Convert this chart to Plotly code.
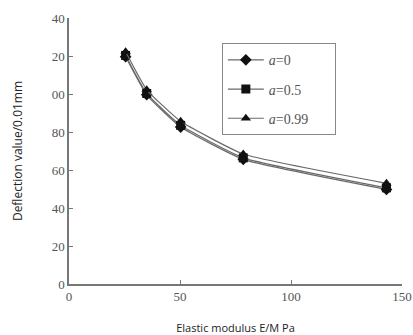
import plotly.graph_objects as go

modulus = [25.5, 35, 50.3, 78.5, 143]
defl_a0 = [119.6, 99.6, 82.6, 65.6, 49.8]
defl_a05 = [120.3, 100.3, 83.5, 66.4, 50.6]
defl_a099 = [122.2, 102.2, 85.6, 68.4, 53.0]
series_names = ["<i>a</i>=0", "<i>a</i>=0.5", "<i>a</i>=0.99"]
symbols = ["diamond", "square", "triangle-up"]
y_tickvals = [0, 20, 40, 60, 80, 100, 120, 140]
y_ticktext = ["0", "20", "40", "60", "80", "00", "20", "40"]
x_tickvals = [0, 50, 100, 150]
x_ticktext = ["0", "50", "100", "150"]

fig = go.Figure()
for i, (name, ys, sym) in enumerate(zip(series_names, [defl_a0, defl_a05, defl_a099], symbols)):
    fig.add_trace(go.Scatter(
        x=modulus, y=ys, mode="lines+markers", name=name + "\u00a0" * 6,
        legendgroup=f"g{i}",
        line=dict(color="#6a6a6a", width=1.2, shape="spline", smoothing=0.4),
        marker=dict(symbol=sym, size=9, color="#111111"),
    ))

serif = "Liberation Serif"
fig.update_layout(
    width=413, height=335,
    margin=dict(l=69, r=11, t=18, b=51),
    plot_bgcolor="white", paper_bgcolor="white",
    showlegend=True,
    legend=dict(
        x=0.459, y=0.905, xanchor="left", yanchor="top",
        bordercolor="#888888", borderwidth=1, bgcolor="white",
        font=dict(family=serif, size=14, color="#555555"),
        tracegroupgap=8, itemwidth=36,
    ),
    xaxis=dict(
        range=[0, 150], tickvals=x_tickvals, ticktext=x_ticktext,
        ticks="inside", ticklen=4, tickcolor="#777777",
        showline=True, linecolor="#777777", linewidth=1.5,
        showgrid=False, zeroline=False, automargin=False,
        tickfont=dict(family=serif, size=13, color="#555555"),
        title=dict(text="Elastic modulus E/M Pa", standoff=21,
                   font=dict(family="Open Sans", size=11, color="#222222")),
    ),
    yaxis=dict(
        range=[0, 140], tickvals=y_tickvals, ticktext=y_ticktext,
        ticks="inside", ticklen=4, tickcolor="#777777",
        showline=True, linecolor="#777777", linewidth=1.5,
        showgrid=False, zeroline=False, automargin=False,
        tickfont=dict(family=serif, size=13, color="#555555"),
        title=dict(text="Deflection value/0.01mm", standoff=26,
                   font=dict(family="Open Sans", size=12, color="#222222")),
    ),
)
fig.write_html(
    "out.html",
    config={"displayModeBar": False},
    post_script="document.body.style.margin='0';document.body.style.overflow='hidden';",
)
